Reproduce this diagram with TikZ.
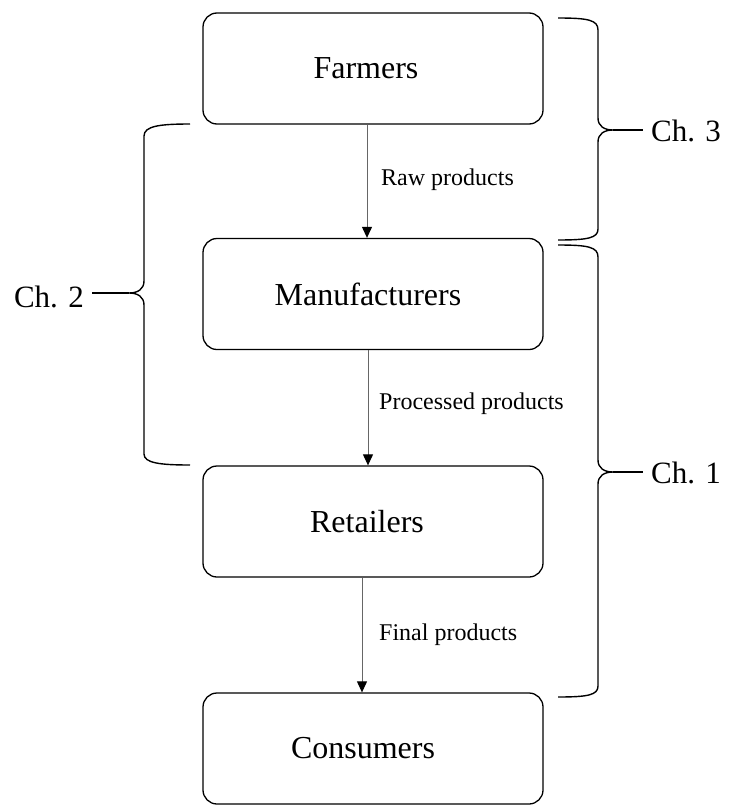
\documentclass[tikz,border=0pt]{standalone}
\usepackage{fontspec}
\setmainfont{Liberation Serif}
\usetikzlibrary{arrows.meta}
\tikzset{
  box/.style={draw=black, line width=1.3pt, rounded corners=14pt, minimum width=340pt, minimum height=111pt, inner sep=0pt, font=\fontsize{32}{36}\selectfont},
  flow/.style={draw=black!60, line width=1pt, -{Triangle[width=10pt,length=11pt,color=black]}},
  flowlbl/.style={font=\fontsize{24}{28}\selectfont, inner sep=0pt, anchor=west},
  brace/.style={draw=black, line width=1.4pt},
  bracetip/.style={draw=black, line width=1.3pt},
  chlbl/.style={font=\fontsize{31}{35}\selectfont, inner xsep=8pt, inner ysep=0pt}
}
\begin{document}
\begin{tikzpicture}[x=1pt,y=-1pt]
\useasboundingbox (0,0) rectangle (735,806);
% boxes
\node[box] (f) at (373,68.5) {\hspace*{-14pt}Farmers};
\node[box] (m) at (373,294) {\hspace*{-10pt}Manufacturers};
\node[box] (r) at (373,521.5) {\hspace*{-12pt}Retailers};
\node[box] (c) at (373,748.5) {\hspace*{-20pt}Consumers};
% flows
\draw[flow] ([xshift=-6pt]f.south) -- ([xshift=-6pt]m.north);
\draw[flow] ([xshift=-5pt]m.south) -- ([xshift=-5pt]r.north);
\draw[flow] ([xshift=-11pt]r.south) -- ([xshift=-11pt]c.north);
\node[flowlbl] (l1) at (381,180) {Raw products};
\node[flowlbl] (l2) at (379,404) {Processed products};
\node[flowlbl] (l3) at (379,635) {Final products};
% brace Ch. 3
\coordinate (t3) at (613,130);
\draw[brace] (558,18) .. controls (588,18) and (598,20) .. (598,30) -- (598,118)
  .. controls (598,126) and (604,130) .. (t3)
  .. controls (604,130) and (598,134) .. (598,142) -- (598,229)
  .. controls (598,238) and (588,240) .. (558,240);
\node[chlbl, anchor=west] (ch3) at (643,131) {Ch. 3};
\draw[bracetip] (t3) -- (t3 -| ch3.west);
% brace Ch. 1
\coordinate (t1) at (613,472);
\draw[brace] (558,245) .. controls (588,245) and (598,247) .. (598,257) -- (598,460)
  .. controls (598,468) and (604,472) .. (t1)
  .. controls (604,472) and (598,476) .. (598,484) -- (598,686)
  .. controls (598,695) and (588,697) .. (558,697);
\node[chlbl, anchor=west] (ch1) at (643,473) {Ch. 1};
\draw[bracetip] (t1) -- (t1 -| ch1.west);
% brace Ch. 2
\coordinate (t2) at (129,293);
\draw[brace] (190,124) .. controls (160,124) and (144,126) .. (144,136) -- (144,281)
  .. controls (144,289) and (138,293) .. (t2)
  .. controls (138,293) and (144,297) .. (144,305) -- (144,454)
  .. controls (144,463) and (160,465) .. (190,465);
\node[chlbl, anchor=east] (ch2) at (92,297) {Ch. 2};
\draw[bracetip] (t2) -- (t2 -| ch2.east);
\end{tikzpicture}
\end{document}
